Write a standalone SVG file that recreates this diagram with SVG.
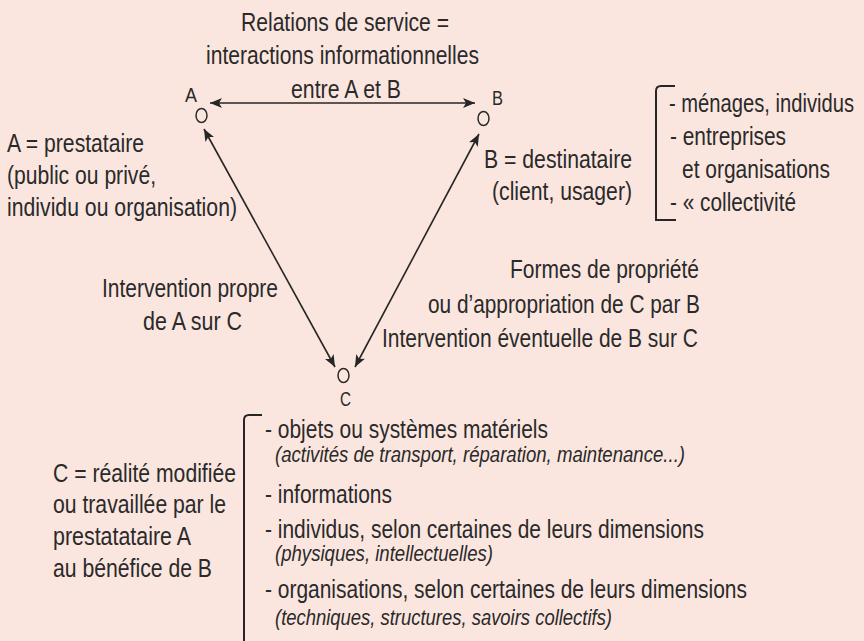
<svg xmlns="http://www.w3.org/2000/svg" width="864" height="641" viewBox="0 0 864 641">
<defs>
<marker id="arr" viewBox="0 0 12 10" refX="12" refY="5" markerWidth="12" markerHeight="10" markerUnits="userSpaceOnUse" orient="auto-start-reverse">
<path d="M0,0 L12,5 L0,10 L3,5 Z" fill="#262626"/>
</marker>
<style>
text{font-family:"Liberation Sans",Arial,sans-serif;font-size:25px;fill:#2a2a2a}
.lbl{font-size:20px}
.it{font-style:italic;font-size:22px}
.node{fill:none;stroke:#2a2a2a;stroke-width:1.5}
.con{stroke:#262626;stroke-width:1.6;fill:none;marker-start:url(#arr);marker-end:url(#arr)}
.br{stroke:#262626;stroke-width:2;fill:none}
</style>
</defs>
<rect width="864" height="641" fill="#FBE6DF"/>

<g id="title">
<text x="241" y="31" textLength="208" lengthAdjust="spacingAndGlyphs">Relations de service =</text>
<text x="206" y="64" textLength="273" lengthAdjust="spacingAndGlyphs">interactions informationnelles</text>
<text x="291" y="98" textLength="110" lengthAdjust="spacingAndGlyphs">entre A et B</text>
</g>

<g id="connectors">
<line class="con" x1="210" y1="103" x2="475" y2="103"/>
<line class="con" x1="204" y1="129" x2="335" y2="367"/>
<line class="con" x1="479" y1="134" x2="355" y2="367"/>
</g>

<g id="nodeA">
<text class="lbl" x="185" y="102" textLength="12" lengthAdjust="spacingAndGlyphs">A</text>
<ellipse class="node" cx="201.5" cy="115.5" rx="5.5" ry="7"/>
<text x="7" y="152" textLength="137" lengthAdjust="spacingAndGlyphs">A = prestataire</text>
<text x="7" y="184" textLength="149" lengthAdjust="spacingAndGlyphs">(public ou privé,</text>
<text x="7" y="216" textLength="230" lengthAdjust="spacingAndGlyphs">individu ou organisation)</text>
</g>

<g id="nodeB">
<text class="lbl" x="492" y="105" textLength="11" lengthAdjust="spacingAndGlyphs">B</text>
<ellipse class="node" cx="483.5" cy="118.5" rx="5.5" ry="7"/>
<text x="484" y="168" textLength="148" lengthAdjust="spacingAndGlyphs">B = destinataire</text>
<text x="492" y="200" textLength="140" lengthAdjust="spacingAndGlyphs">(client, usager)</text>
<path class="br" d="M675,86 H661 Q656,86 656,91 V220 H676"/>
<text x="669" y="112" textLength="185" lengthAdjust="spacingAndGlyphs">- ménages, individus</text>
<text x="670" y="145" textLength="116" lengthAdjust="spacingAndGlyphs">- entreprises</text>
<text x="682" y="178" textLength="148" lengthAdjust="spacingAndGlyphs">et organisations</text>
<text x="670" y="211" textLength="126" lengthAdjust="spacingAndGlyphs">- « collectivité</text>
</g>

<g id="labelAC">
<text x="102" y="297" textLength="176" lengthAdjust="spacingAndGlyphs">Intervention propre</text>
<text x="143" y="330" textLength="99" lengthAdjust="spacingAndGlyphs">de A sur C</text>
</g>

<g id="labelBC">
<text x="510" y="278" textLength="189" lengthAdjust="spacingAndGlyphs">Formes de propriété</text>
<text x="428" y="313" textLength="272" lengthAdjust="spacingAndGlyphs">ou d’appropriation de C par B</text>
<text x="382" y="347" textLength="316" lengthAdjust="spacingAndGlyphs">Intervention éventuelle de B sur C</text>
</g>

<g id="nodeC">
<ellipse class="node" cx="343.5" cy="375.5" rx="5.5" ry="7"/>
<text class="lbl" x="340" y="406" textLength="11" lengthAdjust="spacingAndGlyphs">C</text>
<text x="53" y="482" textLength="183" lengthAdjust="spacingAndGlyphs">C = réalité modifiée</text>
<text x="53" y="513" textLength="173" lengthAdjust="spacingAndGlyphs">ou travaillée par le</text>
<text x="53" y="545" textLength="138" lengthAdjust="spacingAndGlyphs">prestatataire A</text>
<text x="53" y="577" textLength="159" lengthAdjust="spacingAndGlyphs">au bénéfice de B</text>
<path class="br" d="M262,415 H249 Q244,415 244,420 V641"/>
<text x="265" y="438" textLength="283" lengthAdjust="spacingAndGlyphs">- objets ou systèmes matériels</text>
<text class="it" x="275" y="462" textLength="410" lengthAdjust="spacingAndGlyphs">(activités de transport, réparation, maintenance...)</text>
<text x="265" y="503" textLength="127" lengthAdjust="spacingAndGlyphs">- informations</text>
<text x="265" y="538" textLength="439" lengthAdjust="spacingAndGlyphs">- individus, selon certaines de leurs dimensions</text>
<text class="it" x="275" y="561" textLength="218" lengthAdjust="spacingAndGlyphs">(physiques, intellectuelles)</text>
<text x="265" y="598" textLength="482" lengthAdjust="spacingAndGlyphs">- organisations, selon certaines de leurs dimensions</text>
<text class="it" x="275" y="625" textLength="337" lengthAdjust="spacingAndGlyphs">(techniques, structures, savoirs collectifs)</text>
</g>
</svg>
